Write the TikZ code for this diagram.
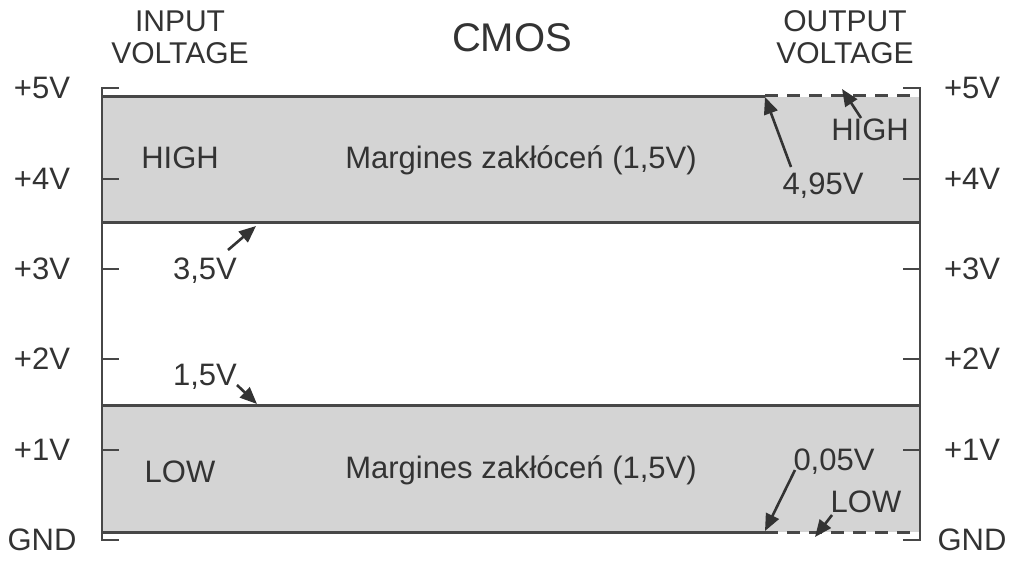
\documentclass[tikz,border=0pt]{standalone}
\usepackage{fontspec}
\setmainfont{Liberation Sans}
\usetikzlibrary{arrows.meta}
\definecolor{txt}{HTML}{333333}
\definecolor{ln}{HTML}{474747}
\definecolor{band}{HTML}{D4D4D4}
\begin{document}
\begin{tikzpicture}[x=1pt,y=-1pt,
  lbl/.style={text=txt,font=\fontsize{31}{33}\selectfont,inner sep=0pt},
  ttl/.style={text=txt,font=\fontsize{30}{32}\selectfont,align=center,inner sep=0pt},
  axis/.style={draw=ln,line width=2.6pt},
  edge/.style={draw=ln,line width=3pt},
  dashedge/.style={draw=ln,line width=3pt,dash pattern=on 13pt off 9pt},
  arr/.style={draw=txt,line width=2.6pt,-{Triangle[length=17pt,width=14pt]}}]
\useasboundingbox[fill=white] (0,0) rectangle (1024,567);
% bands
\fill[band] (102,97) rectangle (920,222);
\fill[band] (102,405) rectangle (920,532);
% axes
\draw[axis] (119,88) -- (102,88) -- (102,540) -- (119,540);
\draw[axis] (903,88) -- (920,88) -- (920,540) -- (903,540);
\foreach \y in {179,269,359,450}{
  \draw[axis] (102,\y) -- (119,\y);
  \draw[axis] (903,\y) -- (920,\y);
}
% band edges
\draw[edge] (102,97) -- (765,97);
\draw[dashedge] (765,96) -- (920,96);
\draw[edge] (102,222) -- (920,222);
\draw[edge] (102,405) -- (920,405);
\draw[edge] (102,532) -- (765,532);
\draw[dashedge] (765,532) -- (920,532);
% titles
\node[ttl] (in) at (180,37) {INPUT\\VOLTAGE};
\node[text=txt,font=\fontsize{40}{44}\selectfont,inner sep=0pt] (cmos) at (512,38) {CMOS};
\node[ttl] (out) at (845,37) {OUTPUT\\VOLTAGE};
% axis labels
\foreach \y/\t [count=\i] in {88/+5V,179/+4V,269/+3V,359/+2V,450/+1V,540/GND}{
  \node[lbl] (L\i) at (42,\y) {\t};
  \node[lbl] (R\i) at (972,\y) {\t};
}
% band labels
\node[lbl] (high) at (180,158) {HIGH};
\node[lbl] (low) at (180,472) {LOW};
\node[lbl] (m1) at (521,160) {Margines zakłóceń (1,5V)};
\node[lbl] (m2) at (521,470) {Margines zakłóceń (1,5V)};
% threshold labels
\node[lbl] (v495) at (823,186) {4,95V};
\node[lbl] (ohigh) at (870,130) {HIGH};
\node[lbl] (v35) at (205,271) {3,5V};
\node[lbl] (v15) at (205,377) {1,5V};
\node[lbl] (v005) at (834,462) {0,05V};
\node[lbl] (olow) at (866,502) {LOW};
% targets
\coordinate (t495) at (765,97);
\coordinate (thigh) at (842,89);
\coordinate (t35) at (256,226);
\coordinate (t15) at (257,404);
\coordinate (t005) at (765,531);
\coordinate (tlow) at (815,537);
% arrows
\draw[arr] (791,167) -- (t495);
\draw[arr] (861,118) -- (thigh);
\draw[arr] (228,250) -- (t35);
\draw[arr] (237,385) -- (t15);
\draw[arr] (795,470) -- (t005);
\draw[arr] (832,515) -- (tlow);
\end{tikzpicture}
\end{document}
